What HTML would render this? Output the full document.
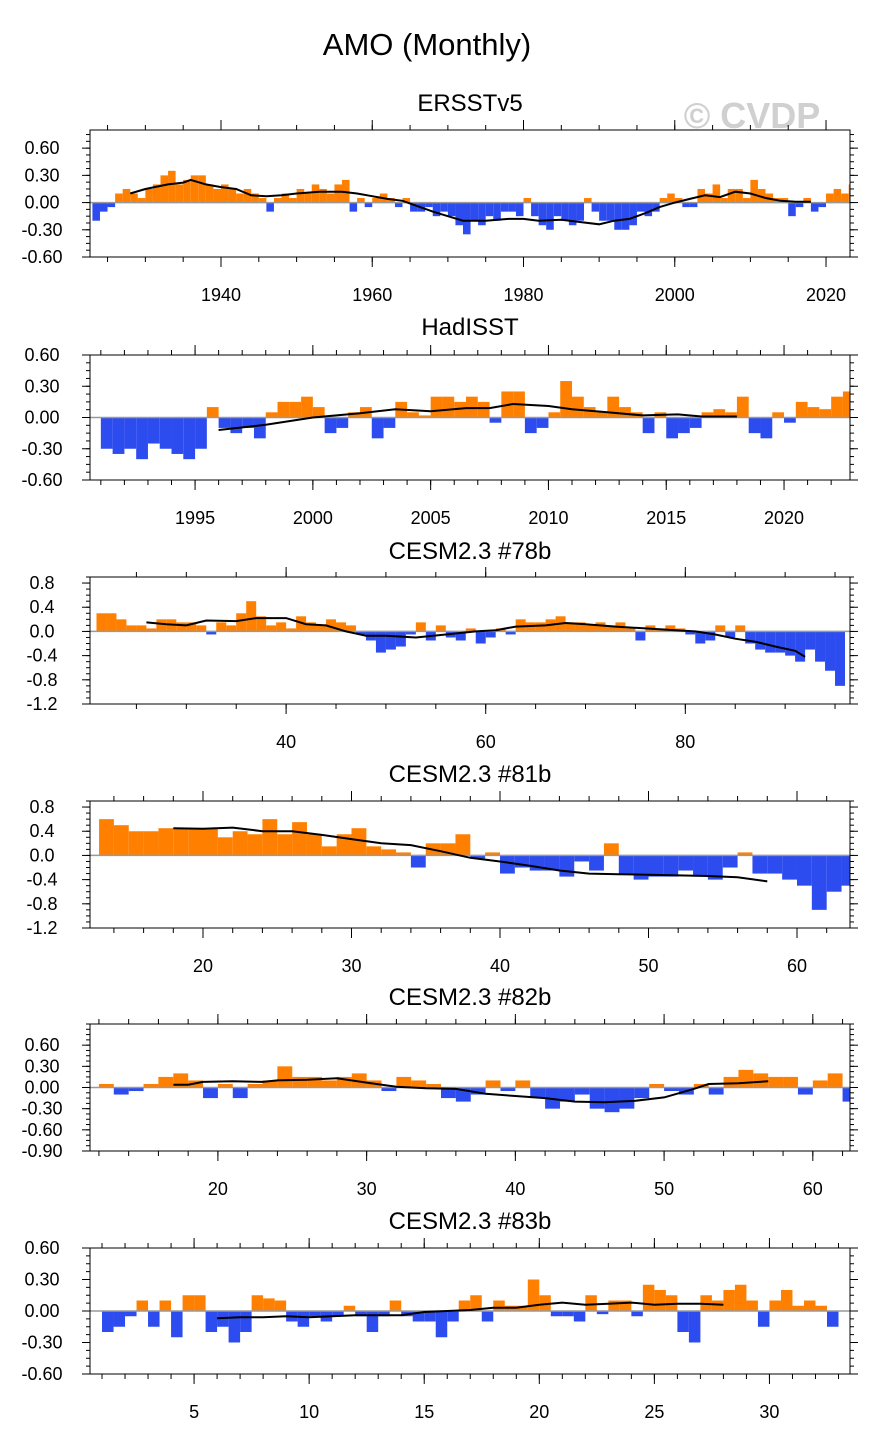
<!DOCTYPE html>
<html><head><meta charset="utf-8"><style>
html,body{margin:0;padding:0;background:#fff;}
svg{display:block;font-family:"Liberation Sans",sans-serif;}
</style></head><body>
<svg id="chart" width="880" height="1450" viewBox="0 0 880 1450">
<text x="427" y="55" font-size="31" text-anchor="middle">AMO (Monthly)</text>
<text x="752" y="128" font-size="36" font-weight="bold" fill="#d0d0d0" text-anchor="middle">© CVDP</text>
</svg>
<script>
// ---- data: ERSSTv5 (yearly, 1923..2023)
const p1Start = 1923, p1Step = 1;
const p1Values = [-0.2,-0.1,-0.05,0.1,0.15,0.1,0.05,0.15,0.2,0.3,0.35,0.2,0.25,0.3,0.3,0.2,0.15,0.2,0.15,0.1,0.15,0.1,0.05,-0.1,0.05,0.1,0.05,0.15,0.1,0.2,0.15,0.1,0.2,0.25,-0.1,0.05,-0.05,0.05,0.1,0.05,-0.05,0.05,-0.1,-0.1,-0.05,-0.15,-0.1,-0.15,-0.25,-0.35,-0.2,-0.25,-0.15,-0.2,-0.1,-0.1,-0.15,0.05,-0.15,-0.25,-0.3,-0.15,-0.2,-0.25,-0.2,0.05,-0.1,-0.2,-0.2,-0.3,-0.3,-0.25,-0.1,-0.15,-0.1,0.05,0.1,0.05,-0.05,-0.05,0.15,0.1,0.2,0.05,0.15,0.15,0.05,0.25,0.15,0.1,0.05,0.05,-0.15,-0.05,0.05,-0.1,-0.05,0.1,0.15,0.1,0.2];
const p1LineX = [1928,1930,1933,1935,1936,1938,1940,1942,1944,1946,1948,1950,1953,1956,1958,1960,1962,1964,1966,1968,1970,1972,1975,1978,1980,1982,1985,1988,1990,1992,1994,1996,1998,2000,2002,2004,2006,2008,2010,2012,2014,2016,2018];
const p1LineY = [0.1,0.15,0.2,0.22,0.25,0.2,0.17,0.15,0.08,0.07,0.08,0.1,0.12,0.12,0.1,0.07,0.04,0.02,-0.04,-0.1,-0.15,-0.2,-0.2,-0.18,-0.18,-0.2,-0.19,-0.22,-0.24,-0.2,-0.18,-0.12,-0.05,0,0.04,0.08,0.06,0.12,0.1,0.05,0.02,0.01,0.01];
const p1YTicks = [0.6,0.3,0,-0.3,-0.6];
const p1YLabels = ["0.60","0.30","0.00","-0.30","-0.60"];
const p1XTicks = [1940,1960,1980,2000,2020];

// ---- HadISST (half-yearly, 1991..2022.5)
const p2Start = 1991, p2Step = 0.5;
const p2Values = [-0.3,-0.35,-0.3,-0.4,-0.25,-0.3,-0.35,-0.4,-0.3,0.1,-0.1,-0.15,-0.1,-0.2,0.05,0.15,0.15,0.2,0.1,-0.15,-0.1,0.05,0.1,-0.2,-0.1,0.15,0.05,0.02,0.2,0.2,0.15,0.2,0.15,-0.05,0.25,0.25,-0.15,-0.1,0.05,0.35,0.2,0.1,0.05,0.2,0.1,0.05,-0.15,0.05,-0.2,-0.15,-0.1,0.05,0.08,0.05,0.2,-0.15,-0.2,0.05,-0.05,0.15,0.1,0.08,0.2,0.25];
const p2LineX = [1996,1998,2000,2002,2003.5,2005,2006.5,2007.5,2008.5,2010,2011,2012.5,2014,2015.5,2016.5,2018];
const p2LineY = [-0.12,-0.07,0,0.04,0.08,0.06,0.09,0.09,0.13,0.11,0.08,0.05,0.02,0.03,0.01,0.01];
const p2YTicks = [0.6,0.3,0,-0.3,-0.6];
const p2YLabels = ["0.60","0.30","0.00","-0.30","-0.60"];
const p2XTicks = [1995,2000,2005,2010,2015,2020];

// ---- CESM2.3 #78b (yearly, 21..95)
const p3Start = 21, p3Step = 1;
const p3Values = [0.3,0.3,0.2,0.1,0.1,0.05,0.2,0.2,0.15,0.15,0.1,-0.05,0.15,0.1,0.3,0.5,0.25,0.1,0.15,0.05,0.25,0.15,0.1,0.2,0.15,0.1,-0.05,-0.15,-0.35,-0.3,-0.25,-0.05,0.15,-0.15,0.1,-0.1,-0.15,0.05,-0.2,-0.1,0.05,-0.05,0.2,0.15,0.15,0.2,0.25,0.15,0.15,0.1,0.15,0.1,0.15,0.05,-0.15,0.1,0.05,0.1,0.05,-0.05,-0.2,-0.15,0.1,-0.1,0.1,-0.2,-0.3,-0.35,-0.35,-0.4,-0.5,-0.3,-0.5,-0.65,-0.9];
const p3LineX = [26,28,30,32,35,37,40,42,44,46,48,50,53,56,59,61,63,66,68,70,73,76,79,81,83,85,87,89,91,92];
const p3LineY = [0.15,0.12,0.1,0.18,0.17,0.22,0.22,0.12,0.1,0,-0.07,-0.07,-0.1,-0.05,0,0.02,0.08,0.1,0.14,0.12,0.08,0.05,0.02,0,-0.05,-0.12,-0.17,-0.25,-0.32,-0.42];
const p3YTicks = [0.8,0.4,0,-0.4,-0.8,-1.2];
const p3YLabels = ["0.8","0.4","0.0","-0.4","-0.8","-1.2"];
const p3XTicks = [40,60,80];

// ---- CESM2.3 #81b (yearly, 13..63)
const p4Start = 13, p4Step = 1;
const p4Values = [0.6,0.5,0.4,0.4,0.45,0.45,0.45,0.45,0.3,0.4,0.35,0.6,0.35,0.55,0.35,0.15,0.35,0.45,0.15,0.1,0.05,-0.2,0.2,0.2,0.35,-0.05,0.05,-0.3,-0.2,-0.25,-0.25,-0.35,-0.1,-0.25,0.2,-0.3,-0.4,-0.35,-0.35,-0.25,-0.35,-0.4,-0.2,0.05,-0.3,-0.3,-0.4,-0.5,-0.9,-0.6,-0.5];
const p4LineX = [18,20,22,24,26,28,30,32,34,36,38,40,42,44,46,48,50,52,54,56,58];
const p4LineY = [0.45,0.44,0.46,0.4,0.4,0.34,0.27,0.2,0.17,0.07,-0.04,-0.1,-0.17,-0.25,-0.3,-0.31,-0.32,-0.33,-0.34,-0.36,-0.43];
const p4YTicks = [0.8,0.4,0,-0.4,-0.8,-1.2];
const p4YLabels = ["0.8","0.4","0.0","-0.4","-0.8","-1.2"];
const p4XTicks = [20,30,40,50,60];

// ---- CESM2.3 #82b (yearly, 12..62)
const p5Start = 12, p5Step = 1;
const p5Values = [0.05,-0.1,-0.05,0.05,0.15,0.2,0.1,-0.15,0.05,-0.15,0.05,0.1,0.3,0.15,0.15,0.1,0.15,0.2,0.1,-0.05,0.15,0.1,0.05,-0.15,-0.2,-0.1,0.1,-0.05,0.1,-0.15,-0.3,-0.2,-0.1,-0.3,-0.35,-0.3,-0.15,0.05,-0.05,-0.1,0.05,-0.1,0.15,0.25,0.2,0.15,0.15,-0.1,0.1,0.2,-0.2];
const p5LineX = [17,18,19,21,23,24,26,28,30,32,34,36,38,40,42,44,46,48,50,52,53,55,57];
const p5LineY = [0.04,0.04,0.08,0.09,0.08,0.1,0.11,0.13,0.07,0.01,-0.01,-0.02,-0.09,-0.12,-0.15,-0.2,-0.21,-0.19,-0.14,-0.02,0.05,0.06,0.09];
const p5YTicks = [0.6,0.3,0,-0.3,-0.6,-0.9];
const p5YLabels = ["0.60","0.30","0.00","-0.30","-0.60","-0.90"];
const p5XTicks = [20,30,40,50,60];

// ---- CESM2.3 #83b (half-yearly, 1..32.5)
const p6Start = 1, p6Step = 0.5;
const p6Values = [-0.2,-0.15,-0.05,0.1,-0.15,0.1,-0.25,0.15,0.15,-0.2,-0.15,-0.3,-0.2,0.15,0.12,0.1,-0.1,-0.15,-0.05,-0.1,-0.05,0.05,-0.05,-0.2,-0.05,0.1,-0.05,-0.1,-0.1,-0.25,-0.1,0.1,0.15,-0.1,0.1,0.05,0.05,0.3,0.15,-0.05,-0.05,-0.1,0.15,-0.03,0.1,0.1,-0.05,0.25,0.2,0.15,-0.2,-0.3,0.15,0.1,0.2,0.25,0.1,-0.15,0.1,0.2,0.05,0.1,0.05,-0.15];
const p6LineX = [6,7,8,9,10,11,12,13,14,15,16,17,18,19,20,21,22,23,24,25,26,27,28];
const p6LineY = [-0.07,-0.06,-0.06,-0.05,-0.06,-0.05,-0.04,-0.04,-0.04,-0.01,0,0.01,0.03,0.03,0.06,0.08,0.06,0.07,0.08,0.06,0.07,0.07,0.06];
const p6YTicks = [0.6,0.3,0,-0.3,-0.6];
const p6YLabels = ["0.60","0.30","0.00","-0.30","-0.60"];
const p6XTicks = [5,10,15,20,25,30];

const NS = "http://www.w3.org/2000/svg";
const svg = document.getElementById("chart");
function mk(tag, attrs, parent) {
  const e = document.createElementNS(NS, tag);
  for (const k in attrs) e.setAttribute(k, attrs[k]);
  (parent || svg).appendChild(e);
  return e;
}
const defs = mk("defs", {});
const panels = [
  {title:"ERSSTv5", ty:111, x0:90, x1:850, y0:130, y1:257, xmin:1922.68, xmax:2023.17, ymin:-0.6, ymax:0.8, start:p1Start, step:p1Step, vals:p1Values, lx:p1LineX, ly:p1LineY, yt:p1YTicks, yl:p1YLabels, xt:p1XTicks, xminor:5, yminor:0.075},
  {title:"HadISST", ty:335, x0:90, x1:850, y0:355, y1:480, xmin:1990.54, xmax:2022.8, ymin:-0.6, ymax:0.6, start:p2Start, step:p2Step, vals:p2Values, lx:p2LineX, ly:p2LineY, yt:p2YTicks, yl:p2YLabels, xt:p2XTicks, xminor:1, yminor:0.075},
  {title:"CESM2.3 #78b", ty:559, x0:90, x1:850, y0:577, y1:704, xmin:20.35, xmax:96.5, ymin:-1.2, ymax:0.9, start:p3Start, step:p3Step, vals:p3Values, lx:p3LineX, ly:p3LineY, yt:p3YTicks, yl:p3YLabels, xt:p3XTicks, xminor:5, yminor:0.1},
  {title:"CESM2.3 #81b", ty:782, x0:90, x1:850, y0:801, y1:928, xmin:12.39, xmax:63.57, ymin:-1.2, ymax:0.9, start:p4Start, step:p4Step, vals:p4Values, lx:p4LineX, ly:p4LineY, yt:p4YTicks, yl:p4YLabels, xt:p4XTicks, xminor:2, yminor:0.1},
  {title:"CESM2.3 #82b", ty:1005, x0:90, x1:850, y0:1024, y1:1151, xmin:11.4, xmax:62.5, ymin:-0.9, ymax:0.9, start:p5Start, step:p5Step, vals:p5Values, lx:p5LineX, ly:p5LineY, yt:p5YTicks, yl:p5YLabels, xt:p5XTicks, xminor:2, yminor:0.075},
  {title:"CESM2.3 #83b", ty:1229, x0:90, x1:850, y0:1248, y1:1374, xmin:0.478, xmax:33.5, ymin:-0.6, ymax:0.6, start:p6Start, step:p6Step, vals:p6Values, lx:p6LineX, ly:p6LineY, yt:p6YTicks, yl:p6YLabels, xt:p6XTicks, xminor:1, yminor:0.075}
];
panels.forEach((p, i) => {
  const g = mk("g", {});
  
  
  const cp = mk("clipPath", {id: "clip" + i}, defs);
  mk("rect", {x: p.x0, y: p.y0, width: p.x1 - p.x0, height: p.y1 - p.y0}, cp);
  const X = v => p.x0 + (v - p.xmin) / (p.xmax - p.xmin) * (p.x1 - p.x0);
  const Y = v => p.y1 - (v - p.ymin) / (p.ymax - p.ymin) * (p.y1 - p.y0);
  const t = mk("text", {x: 470, y: p.ty, "font-size": 24, "text-anchor": "middle"}, g);
  t.textContent = p.title;
  
  
  const bars = mk("g", {"clip-path": "url(#clip" + i + ")"}, g);
  
  
  p.vals.forEach((v, k) => {
    const xa = X(p.start + k * p.step), xb = X(p.start + (k + 1) * p.step);
    const ya = Y(Math.max(v, 0)), yb = Y(Math.min(v, 0));
    const r = mk("rect", {x: xa, y: ya, width: Math.max(xb - xa, 0.5), height: Math.max(yb - ya, 0.3), fill: v >= 0 ? "#ff8000" : "#2d4cf0"}, bars);
    
    
  });
  const z = mk("line", {x1: p.x0, x2: p.x1, y1: Y(0), y2: Y(0), stroke: "#999", "stroke-width": 1.5}, g);
  
  
  const pts = p.lx.map((x, k) => X(x).toFixed(1) + "," + Y(p.ly[k]).toFixed(1)).join(" ");
  const pl = mk("polyline", {points: pts, fill: "none", stroke: "#000", "stroke-width": 2}, g);
  
  
  const f = mk("rect", {x: p.x0, y: p.y0, width: p.x1 - p.x0, height: p.y1 - p.y0, fill: "none", stroke: "#000", "stroke-width": 1}, g);
  
  
  for (let v = p.yt[p.yt.length - 1] - 4 * p.yminor; v <= p.ymax + 1e-6; v += p.yminor) {
    if (v < p.ymin - 1e-6) continue;
    const yy = Y(v);
    mk("line", {x1: p.x0 - 4, x2: p.x0, y1: yy, y2: yy, stroke: "#000"}, g);
    mk("line", {x1: p.x1, x2: p.x1 + 4, y1: yy, y2: yy, stroke: "#000"}, g);
  }
  p.yt.forEach((v, k) => {
    const yy = Y(v);
    mk("line", {x1: p.x0 - 8, x2: p.x0, y1: yy, y2: yy, stroke: "#000"}, g);
    mk("line", {x1: p.x1, x2: p.x1 + 8, y1: yy, y2: yy, stroke: "#000"}, g);
    const l = mk("text", {x: p.x0 - 48, y: yy + 6, "font-size": 18, "text-anchor": "middle"}, g);
    l.textContent = p.yl[k];
    
    
  });
  for (let v = Math.ceil(p.xmin / p.xminor) * p.xminor; v <= p.xmax; v += p.xminor) {
    const xx = X(v);
    mk("line", {x1: xx, x2: xx, y1: p.y1, y2: p.y1 + 5, stroke: "#000"}, g);
    mk("line", {x1: xx, x2: xx, y1: p.y0 - 5, y2: p.y0, stroke: "#000"}, g);
  }
  p.xt.forEach(v => {
    const xx = X(v);
    mk("line", {x1: xx, x2: xx, y1: p.y1, y2: p.y1 + 10, stroke: "#000"}, g);
    mk("line", {x1: xx, x2: xx, y1: p.y0 - 10, y2: p.y0, stroke: "#000"}, g);
    const l = mk("text", {x: xx, y: p.y1 + 44, "font-size": 18, "text-anchor": "middle"}, g);
    l.textContent = String(v);
    
    
  });
});
</script>
</body></html>
